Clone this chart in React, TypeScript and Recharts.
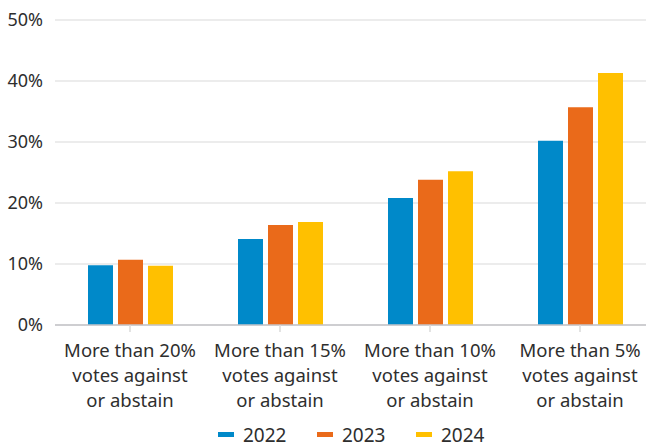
import React from 'react';
import { BarChart, Bar, XAxis, YAxis, CartesianGrid, Legend } from 'recharts';

const categories = ['More than 20%', 'More than 15%', 'More than 10%', 'More than 5%'];
const values2022 = [9.8, 14.1, 20.8, 30.2];
const values2023 = [10.7, 16.4, 23.8, 35.7];
const values2024 = [9.7, 16.9, 25.2, 41.3];
const yTicks = [0, 10, 20, 30, 40, 50];

const series = [
  { key: 'y2022', name: '2022', color: '#0089c9' },
  { key: 'y2023', name: '2023', color: '#ea6a1a' },
  { key: 'y2024', name: '2024', color: '#ffc000' },
];

const data = categories.map((c, i) => ({
  name: c,
  y2022: values2022[i],
  y2023: values2023[i],
  y2024: values2024[i],
}));

const FONT = '"Noto Sans", sans-serif';
const TEXT = '#2e2e2e';

function CategoryTick(props: any) {
  const { x, y, payload } = props;
  return (
    <text x={x} y={y} textAnchor="middle" fill={TEXT} fontFamily={FONT} fontSize={18.5}>
      <tspan x={x} dy={23}>{payload.value}</tspan>
      <tspan x={x} dy={25}>votes against</tspan>
      <tspan x={x} dy={25}>or abstain</tspan>
    </text>
  );
}

function LegendContent() {
  return (
    <svg width={646} height={30} style={{ position: 'absolute', left: 0, top: 0, overflow: 'visible' }}>
      {series.map((s, i) => {
        const x = 218 + i * 99;
        return (
          <g key={s.key}>
            <rect x={x} y={14} width={16} height={5} fill={s.color} />
            <text x={x + 25} y={24} fill={TEXT} fontFamily={FONT} fontSize={19}>
              {s.name}
            </text>
          </g>
        );
      })}
    </svg>
  );
}

export default function App() {
  return (
    <div style={{ position: 'absolute', left: 0, top: 0, width: 646, height: 448, overflow: 'hidden', background: '#fff' }}>
      <BarChart
        width={655}
        height={448}
        data={data}
        margin={{ top: 20, right: 0, left: 0, bottom: 0 }}
        barGap={5}
        barSize={25}
      >
        <CartesianGrid vertical={false} stroke="#e6e6e6" strokeWidth={1.5} />
        <YAxis
          width={55}
          domain={[0, 50]}
          ticks={yTicks}
          tickFormatter={(v) => `${v}%`}
          axisLine={false}
          tickLine={false}
          tickSize={0}
          tickMargin={12}
          tick={{ fill: TEXT, fontFamily: FONT, fontSize: 18 }}
        />
        <XAxis
          dataKey="name"
          height={93}
          axisLine={{ stroke: '#c4c4c8', strokeWidth: 1.5 }}
          tickLine={{ stroke: '#dadada', strokeWidth: 1.5 }}
          tickSize={7}
          tick={<CategoryTick />}
          interval={0}
        />
        <Legend
          verticalAlign="bottom"
          height={30}
          content={<LegendContent />}
          wrapperStyle={{ left: 0, bottom: 0, width: 646, height: 30 }}
        />
        {series.map((s) => (
          <Bar key={s.key} dataKey={s.key} name={s.name} fill={s.color} isAnimationActive={false} />
        ))}
      </BarChart>
    </div>
  );
}
